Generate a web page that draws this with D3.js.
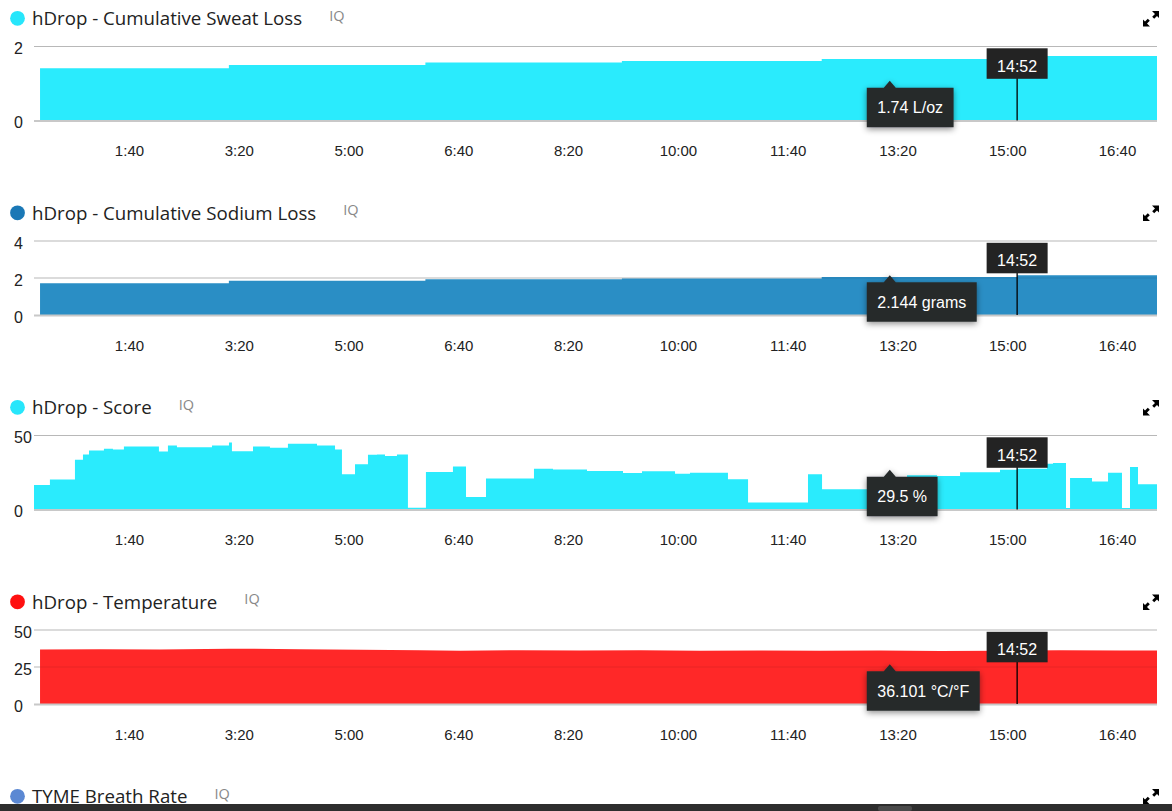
<!DOCTYPE html>
<html><head><meta charset="utf-8">
<script src="https://cdn.jsdelivr.net/npm/d3@7"></script>
<style>
html,body{margin:0;padding:0;background:#fff;overflow:hidden}
svg{display:block}
</style></head><body>
<svg id="c" width="1172" height="811"></svg>
<script>
// ---------- data (time in minutes of elapsed session) ----------
const xTickValues = [100, 200, 300, 400, 500, 600, 700, 800, 900, 1000];
const timeDomain = [13.5, 1036.4];

const panelTitles = ["hDrop - Cumulative Sweat Loss", "hDrop - Cumulative Sodium Loss", "hDrop - Score", "hDrop - Temperature", "TYME Breath Rate"];
const panelDotColors = ["#27e6fb", "#1a78b6", "#27e6fb", "#ff1010", "#5b88d3"];
const panelFillColors = ["#2aebfd", "#2a8ec5", "#2aebfd", "#ff2828"];
const panelYTicks = [[0, 2], [0, 2, 4], [0, 50], [0, 25, 50]];
const panelCurves = ["step", "step", "step", "linear"];

const sweatLoss = [[19, 1.41], [191, 1.50], [370, 1.57], [549, 1.61], [731, 1.66], [909, 1.74], [1036.4, 1.74]];
const sodiumLoss = [[19, 1.72], [191, 1.85], [370, 1.93], [549, 1.97], [731, 2.05], [909, 2.144], [1036.4, 2.144]];
const score = [[13.5,16.6],[28,20.2],[50.8,33.6],[58.1,37.2],[63.6,39.9],[77.2,41.0],[85.4,40.6],[95.4,42.6],[127.3,39.2],[135.5,43.3],[143.7,42.1],[175.6,43.3],[191.1,45.3],[193.8,39.4],[213,42.6],[228.4,41.7],[244.8,44.4],[271.3,43.3],[287.7,40.6],[294,23.8],[305.9,30.5],[317.7,37.0],[325.9,37.2],[333.2,36.1],[344.1,37.2],[354.1,1.1],[370.5,25.3],[395.1,29.1],[407,8.5],[425.2,20.9],[468.9,27.6],[486.2,27.1],[517.2,26.0],[550,24.6],[567.3,25.8],[597.4,24.2],[611,24.9],[645.6,20.4],[663.9,4.7],[718.5,23.8],[731.3,13.7],[808.7,23.1],[836,22.6],[857,25.1],[893.4,26.9],[908.9,27.6],[936.2,30.9],[941.7,31.4],[953.5,1.0],[957.2,21.3],[977.2,19.0],[991.8,24.9],[1004.5,1.0],[1011.8,28.7],[1019.1,17.0],[1036.4,17.0]];
const temperature = [[19,36.8],[74,37.0],[128,36.9],[192,37.4],[256,37.0],[311,36.7],[365,36.4],[402,36.0],[456,36.3],[511,36.1],[566,36.3],[620,36.0],[675,36.2],[730,35.9],[784,36.1],[839,35.8],[893,36.0],[948,36.3],[1003,36.1],[1036.4,36.1]];
const panelData = [sweatLoss, sodiumLoss, score, temperature];

const tooltipTexts = ["1.74 L/oz", "2.144 grams", "29.5 %", "36.101 °C/°F"];
const tooltipMinute = 793;
const cursorMinute = 909;
const cursorLabel = "14:52";

// ---------- layout ----------
const panelTops = [0, 194.5, 389, 583.5, 778];
const plotTop = 46.5, plotBase = 120.5;
const svg = d3.select("#c");
const x = d3.scaleLinear().domain(timeDomain).range([34, 1157]);
const fmt = m => Math.floor(m / 60) + ":" + String(Math.round(m % 60)).padStart(2, "0");

const defs = svg.append("defs");
const f = defs.append("filter").attr("id", "sh").attr("x", "-30%").attr("y", "-30%").attr("width", "160%").attr("height", "180%");
f.append("feDropShadow").attr("dx", 0).attr("dy", 2).attr("stdDeviation", 3).attr("flood-color", "#000").attr("flood-opacity", 0.45);

const numFont = "'Liberation Sans', Arial, sans-serif";
const titleFont = "'Open Sans', sans-serif";

function header(g, i) {
  g.append("circle").attr("cx", 17.5).attr("cy", 18.3).attr("r", 7.4).attr("fill", panelDotColors[i]);
  const t = g.append("text").attr("x", 32).attr("y", 25.3).attr("font-family", titleFont)
    .attr("font-size", 18.7).attr("fill", "#222").text(panelTitles[i]);
  const w = t.node().getComputedTextLength();
  g.append("text").attr("x", 32 + w + 27).attr("y", 20.7).attr("font-family", titleFont)
    .attr("font-size", 14.5).attr("fill", "#888").text("IQ");
  // expand icon
  g.append("path").attr("fill", "#000")
    .attr("d", "M1152,11 L1159,11 L1159,18 L1157,16 L1154.2,18.8 L1152.2,16.8 L1155,14 Z M1150,26.5 L1143,26.5 L1143,19.5 L1145,21.5 L1147.8,18.7 L1149.8,20.7 L1147,23.5 Z");
}

panelTops.forEach((top, i) => {
  const g = svg.append("g").attr("transform", `translate(0,${top})`);
  header(g, i);
  if (i >= panelData.length) return;
  const ticks = panelYTicks[i];
  const y = d3.scaleLinear().domain([0, d3.max(ticks)]).range([plotBase, plotTop]);
  const grid = ticks.filter(t => t > 0);
  g.selectAll(".gl").data(grid).join("line")
    .attr("x1", 34).attr("x2", 1157).attr("y1", d => y(d)).attr("y2", d => y(d))
    .attr("stroke", "#cbcbcb").attr("stroke-width", 1.2);
  const area = d3.area().x(d => x(d[0])).y0(y(0)).y1(d => y(d[1]))
    .curve(panelCurves[i] === "step" ? d3.curveStepAfter : d3.curveLinear);
  g.append("path").datum(panelData[i]).attr("d", area).attr("fill", panelFillColors[i]);
  g.selectAll(".go").data(grid).join("line")
    .attr("x1", 34).attr("x2", 1157).attr("y1", d => y(d)).attr("y2", d => y(d))
    .attr("stroke", "rgba(0,0,0,0.09)").attr("stroke-width", 1.2);
  g.append("line").attr("x1", 34).attr("x2", 1157).attr("y1", y(0) + 0.5).attr("y2", y(0) + 0.5)
    .attr("stroke", "#c8c8c8").attr("stroke-width", 2);
  g.selectAll(".yl").data(ticks).join("text")
    .attr("x", 14).attr("y", d => y(d) + 7.5).attr("font-family", numFont).attr("font-size", 16)
    .attr("fill", "#222").text(d => d);
  const ax = g.append("g").attr("transform", `translate(0,${plotBase})`)
    .call(d3.axisBottom(x).tickValues(xTickValues).tickFormat(fmt).tickSize(0).tickPadding(25));
  ax.select(".domain").remove();
  ax.selectAll("text").attr("font-family", numFont).attr("font-size", 15).attr("fill", "#222");

  // cursor + time tooltip
  const cx = x(cursorMinute);
  g.append("line").attr("x1", cx).attr("x2", cx).attr("y1", 78).attr("y2", plotBase)
    .attr("stroke", "#000").attr("stroke-width", 1.3);
  g.append("rect").attr("x", cx - 30.5).attr("y", 48.3).attr("width", 61).attr("height", 30.5).attr("fill", "#232323");
  g.append("text").attr("x", cx).attr("y", 71.7).attr("text-anchor", "middle").attr("font-family", numFont)
    .attr("font-size", 16).attr("fill", "#fff").text(cursorLabel);

  // value tooltip
  const tx = x(tooltipMinute);
  const tg = g.append("g").attr("filter", "url(#sh)");
  const tt = g.append("text").attr("font-family", numFont).attr("font-size", 16).attr("fill", "#fff").text(tooltipTexts[i]);
  const tw = tt.node().getComputedTextLength();
  const bx = tx - 23, bw = tw + 21;
  tg.append("path").attr("fill", "#262b2c")
    .attr("d", `M${bx},87.7 H${tx - 6} L${tx},80.7 L${tx + 6},87.7 H${bx + bw} V127.3 H${bx} Z`);
  tt.attr("x", bx + bw / 2).attr("y", 113.3).attr("text-anchor", "middle").raise();
});

// bottom scrollbar strip
svg.append("rect").attr("x", 0).attr("y", 804).attr("width", 1172).attr("height", 7).attr("fill", "#2d2d2d");
svg.append("rect").attr("x", 878).attr("y", 806).attr("width", 34).attr("height", 5).attr("rx", 2).attr("fill", "#4a4a4a");
</script>
</body></html>
